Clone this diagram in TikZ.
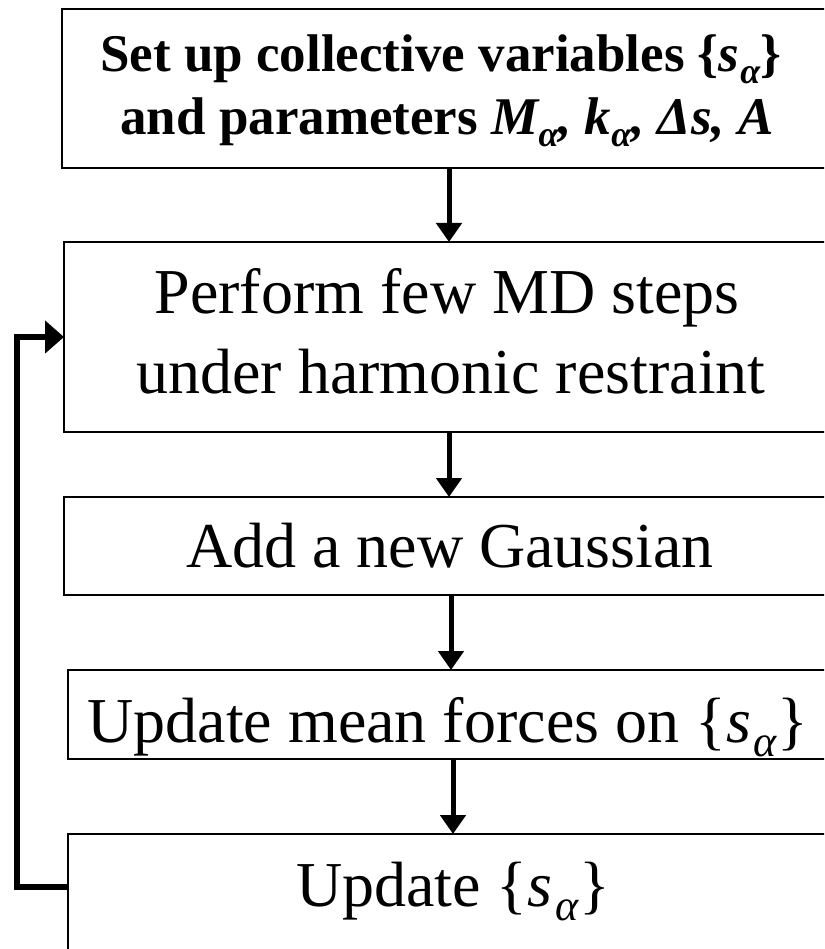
\documentclass[tikz,border=0pt]{standalone}
\usepackage{fontspec}
\setmainfont{Liberation Serif}
\usetikzlibrary{arrows.meta}
\newcommand{\subal}[1]{\raisebox{-0.22em}{\fontsize{#1}{#1}\selectfont\textit{α}}}
\newcommand{\salpha}[1]{\{\textit{s}\kern3pt\subal{#1}\}}
\begin{document}
\begin{tikzpicture}[x=1pt,y=-1pt,
  box/.style={draw, line width=2pt, anchor=north west, inner sep=0pt, outer sep=0pt},
  txt/.style={anchor=base, inner sep=0pt, font=\fontsize{64}{70}\selectfont},
  btxt/.style={anchor=base, inner sep=0pt, font=\fontsize{53}{60}\selectfont\bfseries},
  arr/.style={line width=5pt, -{Triangle[width=25pt,length=19pt]}},
  fb/.style={line width=6pt, -{Triangle[width=32pt,length=19pt]}}]
\useasboundingbox (0,0) rectangle (824,949);
\clip (0,0) rectangle (824,949);
\fill[white] (0,0) rectangle (824,949);
% boxes
\node[box, minimum width=790pt, minimum height=159pt] (b1) at (62,9) {};
\node[box, minimum width=790pt, minimum height=190pt] (b2) at (64,242) {};
\node[box, minimum width=790pt, minimum height=98pt] (b3) at (64,497) {};
\node[box, minimum width=790pt, minimum height=89pt] (b4) at (68,670) {};
\node[box, minimum width=790pt, minimum height=130pt] (b5) at (68,834) {};
% texts
\node[btxt] (t1a) at (441,72) {Set up collective variables \{\textit{s}\kern1pt\subal{36}\}};
\node[btxt] (t1b) at (447,135) {and parameters \textit{M\subal{36}, k\subal{36}, Δs, A}};
\node[txt] (t2a) at (447,313) {Perform few MD steps};
\node[txt] (t2b) at (451,393) {under harmonic restraint};
\node[txt] (t3) at (450,567) {Add a new Gaussian};
\node[txt] (t4) at (448,742) {Update mean forces on \salpha{44}};
\node[txt] (t5) at (453,906) {Update \salpha{44}};
% connectors
\coordinate (xa) at (449,0);
\coordinate (xb) at (451,0);
\coordinate (xc) at (453,0);
\draw[arr] (xa |- b1.south) -- (xa |- b2.north);
\draw[arr] (xa |- b2.south) -- (xa |- b3.north);
\draw[arr] (xb |- b3.south) -- (xb |- b4.north);
\draw[arr] (xc |- b4.south) -- (xc |- b5.north);
\coordinate (ly) at (0,887);
\coordinate (lx) at (17,0);
\draw[fb] (ly -| b5.west) -| (lx |- b2.west) -- (b2.west);
\end{tikzpicture}
\end{document}
